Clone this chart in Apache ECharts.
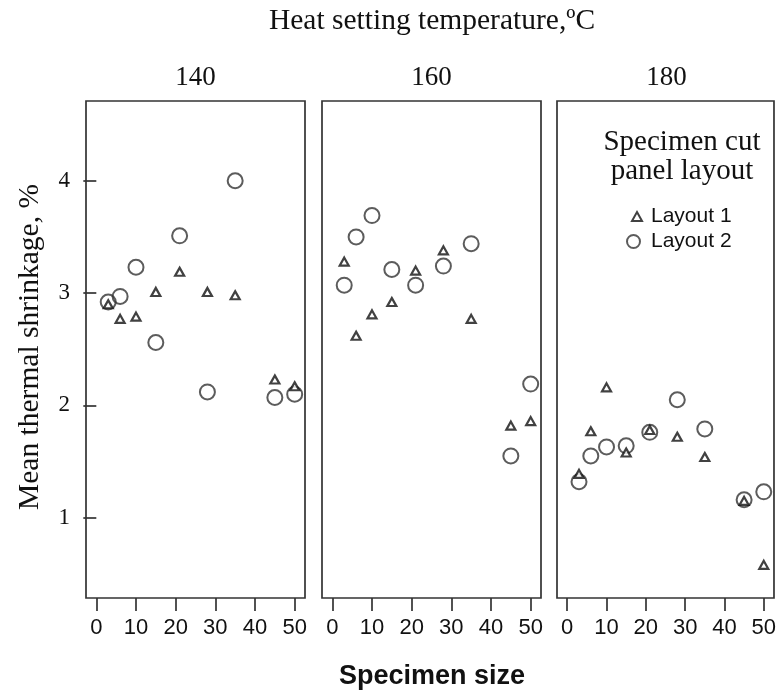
<!DOCTYPE html>
<html>
<head>
<meta charset="utf-8">
<script src="https://cdn.jsdelivr.net/npm/echarts@6/dist/echarts.min.js"></script>
<style>
  html, body { margin: 0; padding: 0; background: #fff; }
  #chart { width: 779px; height: 693px; }
</style>
</head>
<body>
<div id="chart"></div>
<script>
// Specimen sizes shared by every panel
const sizes = [3, 6, 10, 15, 21, 28, 35, 45, 50];
// Heat setting temperatures, one panel each
const temps = ['140', '160', '180'];

// Mean thermal shrinkage (%) for specimen cut panel layout 1
const layout1_140 = [2.90, 2.77, 2.79, 3.01, 3.19, 3.01, 2.98, 2.23, 2.17];
const layout1_160 = [3.28, 2.62, 2.81, 2.92, 3.20, 3.38, 2.77, 1.82, 1.86];
const layout1_180 = [1.39, 1.77, 2.16, 1.58, 1.78, 1.72, 1.54, 1.15, 0.58];

// Mean thermal shrinkage (%) for specimen cut panel layout 2
const layout2_140 = [2.92, 2.97, 3.23, 2.56, 3.51, 2.12, 4.00, 2.07, 2.10];
const layout2_160 = [3.07, 3.50, 3.69, 3.21, 3.07, 3.24, 3.44, 1.55, 2.19];
const layout2_180 = [1.32, 1.55, 1.63, 1.64, 1.76, 2.05, 1.79, 1.16, 1.23];

// Axis tick values
const xTicks = [0, 10, 20, 30, 40, 50];
const yTicks = [1, 2, 3, 4];

const layout1 = [layout1_140, layout1_160, layout1_180];
const layout2 = [layout2_140, layout2_160, layout2_180];

const INK = '#333';
const TEXT = '#111';
const SERIF = '"Liberation Serif", "Times New Roman", serif';
const SANS = '"Liberation Sans", Arial, sans-serif';

const panelLeft = [86, 322, 557];
const panelWidth = 219;
const panelTop = 101;
const panelHeight = 497;

const grids = [], xAxes = [], yAxes = [], series = [];
temps.forEach((t, i) => {
  grids.push({
    left: panelLeft[i], top: panelTop, width: panelWidth, height: panelHeight,
    show: true, borderColor: INK, borderWidth: 1.7, backgroundColor: '#fff'
  });
  xAxes.push({
    type: 'value', gridIndex: i, min: -2.6, max: 52.6,
    axisLine: { show: false },
    splitLine: { show: false },
    axisTick: { show: true, length: 13, customValues: xTicks, lineStyle: { color: INK, width: 1.7 } },
    axisLabel: { show: true, customValues: xTicks, margin: 19, color: TEXT, fontFamily: SANS, fontSize: 22 }
  });
  yAxes.push({
    type: 'value', gridIndex: i, min: 0.285, max: 4.71,
    axisLine: { show: false },
    splitLine: { show: false },
    axisTick: { show: i === 0, length: 13, customValues: yTicks, lineStyle: { color: INK, width: 1.7 } },
    axisLabel: { show: i === 0, customValues: yTicks, margin: 16, color: TEXT, fontFamily: SERIF, fontSize: 23 }
  });
  series.push({
    name: 'Layout 2', type: 'scatter', xAxisIndex: i, yAxisIndex: i,
    symbol: 'circle', symbolSize: 15,
    itemStyle: { color: 'rgba(255,255,255,0)', borderColor: INK, borderWidth: 2 },
    data: sizes.map((s, k) => [s, layout2[i][k]]),
    z: 3
  });
  series.push({
    name: 'Layout 1', type: 'scatter', xAxisIndex: i, yAxisIndex: i,
    symbol: 'triangle', symbolSize: [9, 8],
    itemStyle: { color: '#fff', borderColor: '#111', borderWidth: 2.2 },
    data: sizes.map((s, k) => [s, layout1[i][k]]),
    z: 4
  });
});

const panelCenter = (i) => panelLeft[i] + panelWidth / 2;

const graphics = [
  { type: 'text', x: 432, y: 21, style: { text: 'Heat setting temperature,ºC', font: '29.5px ' + SERIF, fill: TEXT, align: 'center', verticalAlign: 'middle' } },
  { type: 'text', x: 30, y: 347, rotation: Math.PI / 2, style: { text: 'Mean thermal shrinkage, %', font: '29.5px ' + SERIF, fill: TEXT, align: 'center', verticalAlign: 'middle' } },
  { type: 'text', x: 432, y: 677, style: { text: 'Specimen size', font: 'bold 27px ' + SANS, fill: TEXT, align: 'center', verticalAlign: 'middle' } },
  { type: 'text', x: 682, y: 142, style: { text: 'Specimen cut', font: '29px ' + SERIF, fill: TEXT, align: 'center', verticalAlign: 'middle' } },
  { type: 'text', x: 682, y: 171, style: { text: 'panel layout', font: '29px ' + SERIF, fill: TEXT, align: 'center', verticalAlign: 'middle' } }
];
temps.forEach((t, i) => {
  graphics.push({ type: 'text', x: panelCenter(i), y: 78, style: { text: t, font: '27px ' + SERIF, fill: TEXT, align: 'center', verticalAlign: 'middle' } });
});

const chart = echarts.init(document.getElementById('chart'), null, { renderer: 'canvas' });
chart.setOption({
  animation: false,
  backgroundColor: '#fff',
  grid: grids,
  xAxis: xAxes,
  yAxis: yAxes,
  legend: [
    {
      data: ['Layout 1'], orient: 'vertical', left: 626, top: 201,
      itemWidth: 10, itemHeight: 9, itemGap: 0, selectedMode: false,
      textStyle: { fontFamily: SANS, fontSize: 21, color: TEXT, padding: [0, 0, 0, 4] }
    },
    {
      data: ['Layout 2'], orient: 'vertical', left: 621, top: 226,
      itemWidth: 13, itemHeight: 13, itemGap: 0, selectedMode: false,
      textStyle: { fontFamily: SANS, fontSize: 21, color: TEXT, padding: [0, 0, 0, 6] }
    }
  ],
  series: series,
  graphic: graphics
});
</script>
</body>
</html>
